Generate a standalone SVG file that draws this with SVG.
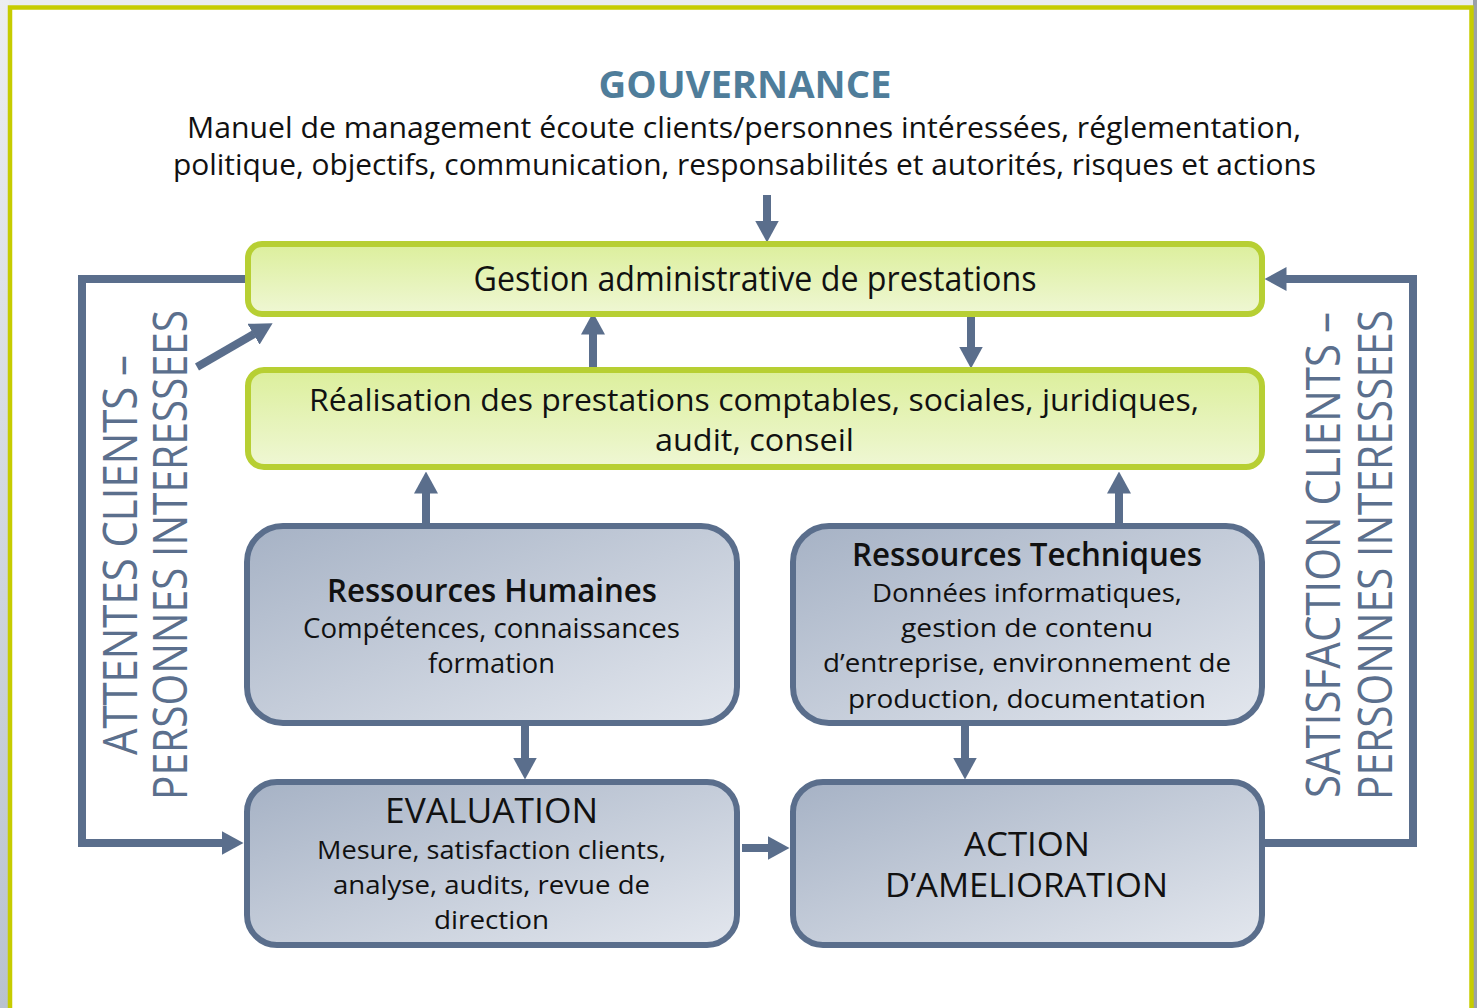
<svg xmlns="http://www.w3.org/2000/svg" width="1477" height="1008" viewBox="0 0 1477 1008">
<defs>
<linearGradient id="gGreen" x1="0" y1="0" x2="0" y2="1">
<stop offset="0" stop-color="#dcef9c"/>
<stop offset="1" stop-color="#eff7d4"/>
</linearGradient>
<linearGradient id="gBlue" x1="0" y1="0" x2="1" y2="1">
<stop offset="0" stop-color="#a6b2c5"/>
<stop offset="1" stop-color="#e3e7ee"/>
</linearGradient>
<linearGradient id="gSide" x1="0" y1="0" x2="0" y2="1">
<stop offset="0" stop-color="#eceef1"/>
<stop offset="1" stop-color="#b9c2cf"/>
</linearGradient>
<marker id="ah" markerUnits="userSpaceOnUse" viewBox="0 0 22 24" markerWidth="22" markerHeight="24" refX="0.5" refY="12" orient="auto">
<path d="M0,0 L22,12 L0,24 z" fill="#5a6e8c"/>
</marker>
<style>
.g{fill:url(#gGreen);stroke:#b7cf33;stroke-width:6}
.b{fill:url(#gBlue);stroke:#5a6e8c;stroke-width:6}
.t{font-family:"Open Sans","Noto Sans","Liberation Sans",sans-serif;fill:#111;text-anchor:middle}
.h{font-weight:600}
.v{font-family:"Open Sans","Noto Sans","Liberation Sans",sans-serif;fill:#5b6f8d;text-anchor:middle;font-size:48px}
.c{fill:none;stroke:#5a6e8c;stroke-width:8;stroke-linejoin:miter}
</style>
</defs>
<rect x="0" y="0" width="1477" height="1008" fill="#eaecef"/>
<rect x="0" y="0" width="9" height="1008" fill="url(#gSide)"/>
<rect x="1473" y="0" width="4" height="1008" fill="#9aa0a8"/>
<rect x="10" y="7.5" width="1461.5" height="1010" fill="#ffffff" stroke="#c6cc00" stroke-width="4.5"/>

<g id="header">
<text class="t" x="745" y="98" font-size="37" font-weight="700" style="fill:#4f7d9a" textLength="293" lengthAdjust="spacingAndGlyphs">GOUVERNANCE</text>
<text class="t" x="744" y="138" font-size="30" textLength="1114" lengthAdjust="spacingAndGlyphs">Manuel de management écoute clients/personnes intéressées, réglementation,</text>
<text class="t" x="744.5" y="175" font-size="30" textLength="1143" lengthAdjust="spacingAndGlyphs">politique, objectifs, communication, responsabilités et autorités, risques et actions</text>
</g>

<g id="connectors">
<line class="c" x1="767" y1="195" x2="767" y2="221" marker-end="url(#ah)"/>
<line class="c" x1="593" y1="368" x2="593" y2="334" marker-end="url(#ah)"/>
<line class="c" x1="971" y1="316" x2="971" y2="347" marker-end="url(#ah)"/>
<line class="c" x1="426" y1="524" x2="426" y2="493" marker-end="url(#ah)"/>
<line class="c" x1="1119" y1="524" x2="1119" y2="493" marker-end="url(#ah)"/>
<line class="c" x1="525" y1="726" x2="525" y2="758" marker-end="url(#ah)"/>
<line class="c" x1="965" y1="726" x2="965" y2="758" marker-end="url(#ah)"/>
<line class="c" x1="742" y1="848" x2="768" y2="848" marker-end="url(#ah)"/>
<polyline class="c" points="246,279 82,279 82,843 222,843" marker-end="url(#ah)"/>
<polyline class="c" points="1264,843 1413,843 1413,279 1286,279" marker-end="url(#ah)"/>
<line class="c" x1="197" y1="367" x2="254" y2="334" marker-end="url(#ah)"/>
</g>

<g id="gestion">
<rect class="g" x="248" y="244" width="1014" height="70" rx="14"/>
<text class="t" x="755" y="291" font-size="34" textLength="563" lengthAdjust="spacingAndGlyphs">Gestion administrative de prestations</text>
</g>

<g id="realisation">
<rect class="g" x="248" y="370" width="1014" height="97" rx="16"/>
<text class="t" x="754" y="411" font-size="31" textLength="890" lengthAdjust="spacingAndGlyphs">Réalisation des prestations comptables, sociales, juridiques,</text>
<text class="t" x="754.5" y="451" font-size="31" textLength="199" lengthAdjust="spacingAndGlyphs">audit, conseil</text>
</g>

<g id="rh">
<rect class="b" x="247" y="526" width="490" height="197" rx="36"/>
<text class="t h" x="492" y="602" font-size="33" textLength="330" lengthAdjust="spacingAndGlyphs">Ressources Humaines</text>
<text class="t" x="491.5" y="638" font-size="27" textLength="377" lengthAdjust="spacingAndGlyphs">Compétences, connaissances</text>
<text class="t" x="491.5" y="673" font-size="27" textLength="127" lengthAdjust="spacingAndGlyphs">formation</text>
</g>

<g id="rt">
<rect class="b" x="793" y="526" width="469" height="197" rx="36"/>
<text class="t h" x="1027" y="566" font-size="32" textLength="350" lengthAdjust="spacingAndGlyphs">Ressources Techniques</text>
<text class="t" x="1027" y="602" font-size="26" textLength="310" lengthAdjust="spacingAndGlyphs">Données informatiques,</text>
<text class="t" x="1027" y="637" font-size="26" textLength="252" lengthAdjust="spacingAndGlyphs">gestion de contenu</text>
<text class="t" x="1027" y="672" font-size="26" textLength="408" lengthAdjust="spacingAndGlyphs">d’entreprise, environnement de</text>
<text class="t" x="1027" y="708" font-size="26" textLength="358" lengthAdjust="spacingAndGlyphs">production, documentation</text>
</g>

<g id="evaluation">
<rect class="b" x="247" y="782" width="490" height="163" rx="30"/>
<text class="t" x="491.5" y="823" font-size="34" textLength="213" lengthAdjust="spacingAndGlyphs">EVALUATION</text>
<text class="t" x="491.5" y="859" font-size="26" textLength="349" lengthAdjust="spacingAndGlyphs">Mesure, satisfaction clients,</text>
<text class="t" x="491.5" y="894" font-size="26" textLength="317" lengthAdjust="spacingAndGlyphs">analyse, audits, revue de</text>
<text class="t" x="491.5" y="929" font-size="26" textLength="115" lengthAdjust="spacingAndGlyphs">direction</text>
</g>

<g id="action">
<rect class="b" x="793" y="782" width="469" height="163" rx="30"/>
<text class="t" x="1027" y="856" font-size="32" textLength="126" lengthAdjust="spacingAndGlyphs">ACTION</text>
<text class="t" x="1026.5" y="897" font-size="32" textLength="283" lengthAdjust="spacingAndGlyphs">D’AMELIORATION</text>
</g>

<g id="attentes">
<text class="v" transform="translate(137,555) rotate(-90)" textLength="400" lengthAdjust="spacingAndGlyphs">ATTENTES CLIENTS –</text>
<text class="v" transform="translate(187,555) rotate(-90)" textLength="490" lengthAdjust="spacingAndGlyphs">PERSONNES INTERESSEES</text>
</g>

<g id="satisfaction">
<text class="v" transform="translate(1340,555) rotate(-90)" textLength="486" lengthAdjust="spacingAndGlyphs">SATISFACTION CLIENTS –</text>
<text class="v" transform="translate(1392,555) rotate(-90)" textLength="490" lengthAdjust="spacingAndGlyphs">PERSONNES INTERESSEES</text>
</g>
</svg>
